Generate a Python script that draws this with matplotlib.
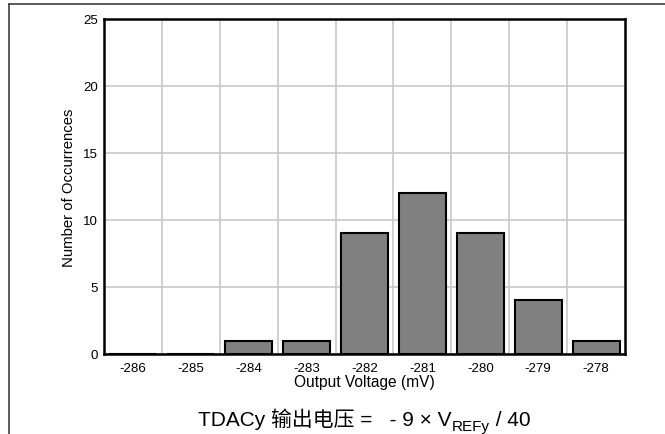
import matplotlib
matplotlib.use("Agg")
import matplotlib.pyplot as plt
import numpy as np
from matplotlib.lines import Line2D

# histogram of output voltage codes
voltages = ["-286", "-285", "-284", "-283", "-282", "-281", "-280", "-279", "-278"]
counts = [0, 0, 1, 1, 9, 12, 9, 4, 1]
y_ticks = [0, 5, 10, 15, 20, 25]

plt.rcParams["font.family"] = ["Liberation Sans", "Noto Sans CJK SC", "DejaVu Sans"]

W, H = 665, 435
fig = plt.figure(figsize=(W / 100, H / 100), dpi=100)
ax = fig.add_axes([104 / W, 1 - 355 / H, (625 - 104) / W, (355 - 20) / H])

x = np.arange(len(voltages))
ax.bar(x, counts, width=0.81, color="#808080", edgecolor="black", linewidth=1.5, zorder=3)

ax.set_xlim(-0.5, len(voltages) - 0.5)
ax.set_ylim(0, 25)
ax.set_xticks(x)
ax.set_xticklabels(voltages)
ax.set_xticks(x[:-1] + 0.5, minor=True)
ax.set_yticks(y_ticks)
ax.grid(True, which="minor", axis="x", color="#c8c8c8", linewidth=1.2, zorder=0)
ax.grid(True, which="major", axis="y", color="#c8c8c8", linewidth=1.2, zorder=0)
ax.tick_params(which="both", length=0, labelsize=9.6)
ax.tick_params(axis="x", pad=6)
ax.tick_params(axis="y", pad=4.5)
for spine in ax.spines.values():
    spine.set_linewidth(1.8)
    spine.set_color("black")

ax.set_xlabel("Output Voltage (mV)", fontsize=11.2, labelpad=0)
ax.set_ylabel("Number of Occurrences", fontsize=10.7, labelpad=5)

# outer frame (top and left edges only)
fig.add_artist(Line2D([9 / W, 1], [1 - 5 / H, 1 - 5 / H], color="#404040", linewidth=1.2))
fig.add_artist(Line2D([9 / W, 9 / W], [0, 1 - 5 / H], color="#404040", linewidth=1.2))

# caption with subscript, pieces placed one after another
fam = ["Liberation Sans", "Noto Sans CJK SC"]
base_y = 1 - 426 / H
t1 = fig.text(198 / W, base_y, "TDACy 输出电压 =   - 9 × V", va="baseline", family=fam, fontsize=15)
fig.canvas.draw()
r = fig.canvas.get_renderer()
x1 = t1.get_window_extent(r).x1 / W
t2 = fig.text(x1, base_y - 5.5 / H, "REFy", va="baseline", family=fam, fontsize=11)
x2 = t2.get_window_extent(r).x1 / W
fig.text(x2, base_y, " / 40", va="baseline", family=fam, fontsize=15)

fig.savefig("out.png", dpi=100)
